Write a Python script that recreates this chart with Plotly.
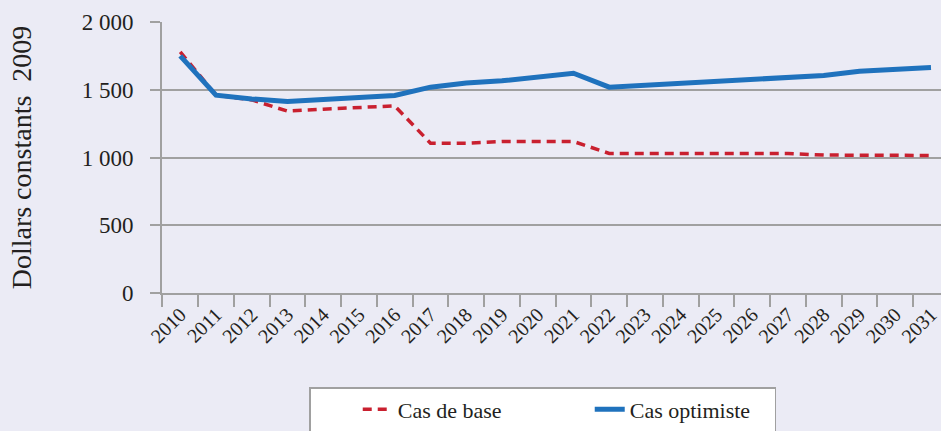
import plotly.graph_objects as go

# données (dollars constants 2009)
years = [str(y) for y in range(2010, 2032)]
cas_base = [1780, 1460, 1425, 1342, 1357, 1369, 1381, 1106, 1106, 1118, 1118,
            1118, 1030, 1030, 1030, 1030, 1030, 1030, 1018, 1016, 1016, 1015]
cas_optimiste = [1750, 1460, 1432, 1414, 1428, 1442, 1458, 1519, 1549, 1566, 1596,
                 1622, 1519, 1534, 1549, 1561, 1575, 1590, 1605, 1637, 1652, 1664]
y_ticks = [0, 500, 1000, 1500, 2000]
y_labels = ["0", "500", "1 000", "1 500", "2 000"]

font = "Liberation Serif, Times New Roman, serif"
ink = "#231f20"
grid = "#a0a0a0"

fig = go.Figure()
fig.add_trace(go.Scatter(x=years, y=cas_base, name="Cas de base", mode="lines",
                         line=dict(color="#c9202f", width=3.5, dash="9px,6px")))
fig.add_trace(go.Scatter(x=years, y=cas_optimiste, name="Cas optimiste", mode="lines",
                         line=dict(color="#1f72bd", width=5)))

fig.update_layout(
    width=941, height=431,
    margin=dict(l=162, r=0, t=22, b=138, autoexpand=False),
    paper_bgcolor="#ebebf5", plot_bgcolor="#ebebf5",
    font=dict(family=font, color=ink),
    showlegend=True,
    legend=dict(orientation="h", x=0.189, y=-0.347, xanchor="left", yanchor="top",
                bgcolor="white", bordercolor=grid, borderwidth=1.5,
                font=dict(size=22, family=font, color=ink), entrywidth=140, indentation=47),
)
fig.update_xaxes(type="category", range=[-0.51, 21.28], tickson="boundaries", automargin=False,
                 ticks="outside", ticklen=12, tickcolor=grid, tickwidth=2,
                 showline=True, linecolor=grid, linewidth=2, showgrid=False,
                 tickangle=-45, tickfont=dict(size=20, family=font, color=ink))
fig.update_yaxes(range=[0, 2000], tickvals=y_ticks, ticktext=y_labels, automargin=False,
                 ticks="outside", ticklen=10, tickcolor=grid, tickwidth=2,
                 showline=True, linecolor=grid, linewidth=2,
                 gridcolor=grid, gridwidth=2, zeroline=False,
                 tickfont=dict(size=23, family=font, color=ink), ticklabelstandoff=12,
                 title=dict(text="Dollars constants\u00a0 2009", standoff=42,
                            font=dict(size=28, family=font, color=ink)))

# la page html a une marge de 8 px par défaut : on la retire
fig.write_html("out.html", config={"displayModeBar": False},
               post_script="document.body.style.margin='0';")
